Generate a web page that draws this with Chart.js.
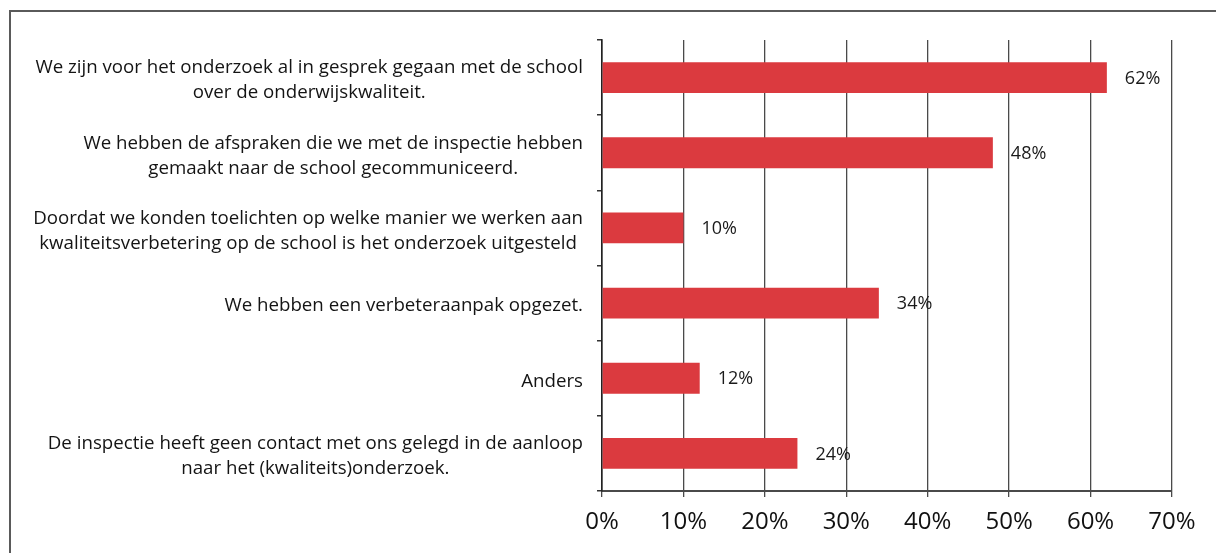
<!DOCTYPE html>
<html>
<head>
<meta charset="utf-8">
<script src="https://cdn.jsdelivr.net/npm/chart.js@4.4.1/dist/chart.umd.min.js"></script>
<style>
  html, body { margin: 0; padding: 0; background: #ffffff; }
  #wrap { position: relative; width: 1216px; height: 553px; }
</style>
</head>
<body>
<div id="wrap"><canvas id="c" width="1216" height="553"></canvas></div>
<script>
// Survey answers (one entry per horizontal bar, top to bottom)
const categories = [
  ['We zijn voor het onderzoek al in gesprek gegaan met de school', 'over de onderwijskwaliteit.'],
  ['We hebben de afspraken die we met de inspectie hebben', 'gemaakt naar de school gecommuniceerd.'],
  ['Doordat we konden toelichten op welke manier we werken aan', 'kwaliteitsverbetering op de school is het onderzoek uitgesteld'],
  ['We hebben een verbeteraanpak opgezet.'],
  ['Anders'],
  ['De inspectie heeft geen contact met ons gelegd in de aanloop', 'naar het (kwaliteits)onderzoek.']
];
const percentages = [62, 48, 10, 34, 12, 24];
const xTickValues = [0, 10, 20, 30, 40, 50, 60, 70];

const LABEL_FONT = '18.7px "Open Sans"';
const LINE_H = 25;

// Category labels: each block right-aligned next to the axis, lines centred within the block
const categoryLabels = {
  id: 'categoryLabels',
  afterDraw(chart) {
    const ctx = chart.ctx;
    const y = chart.scales.y;
    const rightEdge = chart.chartArea.left - 19;
    ctx.save();
    ctx.font = LABEL_FONT;
    ctx.fillStyle = '#141414';
    ctx.textAlign = 'center';
    ctx.textBaseline = 'middle';
    categories.forEach((lines, i) => {
      const w = Math.max(...lines.map(l => ctx.measureText(l).width));
      const cx = rightEdge - w / 2;
      const cy = y.getPixelForValue(i) + 3;
      const top = cy - (lines.length - 1) * LINE_H / 2;
      lines.forEach((l, k) => ctx.fillText(l, cx, top + k * LINE_H));
    });
    ctx.restore();
  }
};

// Value labels just past the end of each bar
const valueLabels = {
  id: 'valueLabels',
  afterDatasetsDraw(chart) {
    const ctx = chart.ctx;
    const meta = chart.getDatasetMeta(0);
    ctx.save();
    ctx.font = '18px "Open Sans"';
    ctx.fillStyle = '#1a1a1a';
    ctx.textAlign = 'left';
    ctx.textBaseline = 'middle';
    meta.data.forEach((bar, i) => {
      ctx.fillText(percentages[i] + '%', bar.x + 18, bar.y + 1);
    });
    ctx.restore();
  }
};

// Outer frame around the figure (top and left edges)
const frame = {
  id: 'frame',
  beforeDraw(chart) {
    const ctx = chart.ctx;
    ctx.save();
    ctx.fillStyle = '#ffffff';
    ctx.fillRect(0, 0, chart.width, chart.height);
    ctx.strokeStyle = '#5a5a5a';
    ctx.lineWidth = 2;
    ctx.beginPath();
    ctx.moveTo(10, chart.height);
    ctx.lineTo(10, 11);
    ctx.lineTo(chart.width, 11);
    ctx.stroke();
    ctx.restore();
  }
};

new Chart(document.getElementById('c'), {
  type: 'bar',
  data: {
    labels: categories,
    datasets: [{
      data: percentages,
      backgroundColor: '#db3a3f',
      borderWidth: 0,
      categoryPercentage: 1,
      barPercentage: 0.41
    }]
  },
  options: {
    indexAxis: 'y',
    responsive: false,
    animation: false,
    events: [],
    layout: { padding: { left: 0, right: 44, top: 40, bottom: 0 } },
    plugins: { legend: { display: false }, tooltip: { enabled: false } },
    scales: {
      x: {
        type: 'linear',
        min: 0,
        max: 70,
        afterBuildTicks: s => { s.ticks = xTickValues.map(v => ({ value: v })); },
        afterFit: s => { s.height = 62; },
        ticks: {
          callback: v => v + '%',
          font: { family: 'Open Sans', size: 24 },
          color: '#111111',
          padding: 11
        },
        grid: {
          color: '#4a4a4a',
          lineWidth: 1.3,
          tickLength: 6,
          tickColor: '#4a4a4a'
        },
        border: { color: '#4a4a4a', width: 2 }
      },
      y: {
        afterFit: s => { s.width = 602; },
        ticks: { display: false },
        grid: {
          drawOnChartArea: false,
          offset: true,
          tickLength: 5,
          tickColor: '#333333',
          lineWidth: 1.5
        },
        border: { color: '#222222', width: 1.6 }
      }
    }
  },
  plugins: [frame, categoryLabels, valueLabels]
});
</script>
</body>
</html>
